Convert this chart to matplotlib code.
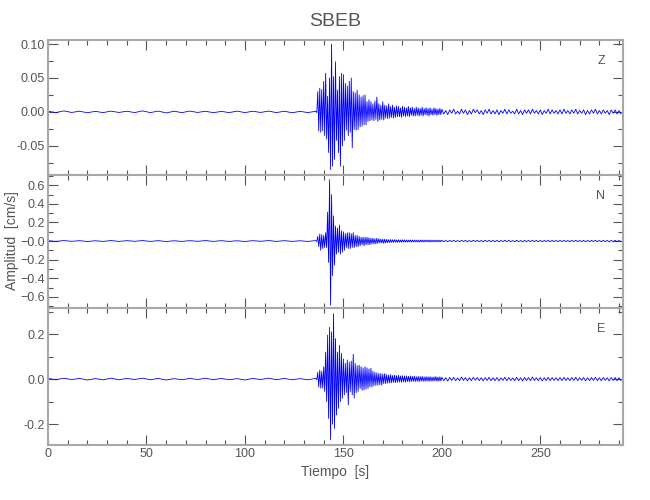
import numpy as np
import matplotlib
matplotlib.use("Agg")
import matplotlib.pyplot as plt
from matplotlib.ticker import MultipleLocator, FixedLocator, FixedFormatter

plt.rcParams['font.family'] = ['Liberation Sans', 'DejaVu Sans']

station = "SBEB"
components = ["Z", "N", "E"]

# time grid of the three parts of each trace (s)
t_pre = np.arange(0, 136, 4)       # quiet noise before arrival
t_evt = np.arange(136, 200)        # strong motion, one upper + one lower peak per second
t_coda = np.arange(200, 292)       # late coda, one peak per second

# ---- Z component (cm/s) ----
z_pre = [0.001, -0.001, 0.0015, -0.0008, 0.001, -0.0012, 0.0008, -0.001, 0.0012, -0.0008,
         0.001, -0.001, 0.0015, -0.001, 0.0012, -0.0015, 0.001, -0.001, 0.0012, -0.0008,
         0.001, -0.0012, 0.0008, -0.001, 0.0012, -0.001, 0.001, -0.0008, 0.0012, -0.001,
         0.001, -0.0012, 0.0008, -0.001]
z_up = [0.001, 0.030, 0.035, 0.033, 0.045, 0.057, 0.023, 0.050, 0.100, 0.052,
        0.074, 0.032, 0.052, 0.057, 0.055, 0.042, 0.038, 0.045, 0.050, 0.030,
        0.028, 0.032, 0.025, 0.022, 0.024, 0.025, 0.015, 0.018, 0.015, 0.012,
        0.016, 0.022, 0.012, 0.010, 0.015, 0.010, 0.009, 0.012, 0.008, 0.010,
        0.007, 0.009, 0.008, 0.006, 0.008, 0.007, 0.006, 0.008, 0.006, 0.007,
        0.005, 0.007, 0.006, 0.005, 0.007, 0.005, 0.006, 0.005, 0.006, 0.004,
        0.006, 0.005, 0.004, 0.005]
z_lo = [-0.001, -0.028, -0.030, -0.028, -0.035, -0.040, -0.060, -0.085, -0.080, -0.070,
        -0.042, -0.060, -0.080, -0.050, -0.042, -0.027, -0.035, -0.030, -0.053, -0.026,
        -0.027, -0.026, -0.022, -0.021, -0.019, -0.019, -0.014, -0.013, -0.012, -0.013,
        -0.011, -0.014, -0.012, -0.011, -0.012, -0.009, -0.010, -0.009, -0.008, -0.009,
        -0.008, -0.007, -0.007, -0.008, -0.006, -0.007, -0.006, -0.007, -0.005, -0.006,
        -0.006, -0.005, -0.006, -0.005, -0.006, -0.004, -0.005, -0.006, -0.004, -0.005,
        -0.004, -0.005, -0.004, -0.004]
# coda in units of 0.001 cm/s
z_coda = [4, -3, 2, -4, 3, -2, 4, -3, 1, -3, 4, -2, 3, -4, 2, -3, 4, -1, 3, -3,
          2, -4, 3, -2, 4, -3, 2, -3, 3, -4, 2, -2, 4, -3, 3, -2, 1, -3, 4, -3,
          2, -4, 3, -2, 3, -3, 4, -2, 2, -3, 3, -4, 2, -2, 4, -3, 3, -2, 2, -3,
          3, -3, 4, -2, 2, -3, 3, -2, 4, -3, 2, -2, 3, -4, 2, -3, 3, -2, 4, -3,
          2, -3, 3, -2, 2, -4, 3, -2, 3, -3, 2, -3]

# ---- N component ----
n_pre = [0.004, -0.004, 0.005, -0.003, 0.004, -0.005, 0.003, -0.004, 0.005, -0.004,
         0.004, -0.003, 0.005, -0.004, 0.004, -0.005, 0.003, -0.004, 0.004, -0.003,
         0.005, -0.004, 0.004, -0.004, 0.003, -0.005, 0.004, -0.003, 0.005, -0.004,
         0.004, -0.004, 0.003, -0.004]
n_up = [0.005, 0.050, 0.075, 0.070, 0.060, 0.090, 0.310, 0.660, 0.500, 0.270,
        0.160, 0.140, 0.170, 0.110, 0.100, 0.080, 0.090, 0.090, 0.080, 0.090,
        0.060, 0.060, 0.050, 0.040, 0.040, 0.040, 0.040, 0.035, 0.030, 0.030,
        0.025, 0.030, 0.025, 0.020, 0.020, 0.020, 0.018, 0.015, 0.016, 0.014,
        0.015, 0.012, 0.014, 0.012, 0.013, 0.011, 0.012, 0.010, 0.012, 0.010,
        0.011, 0.010, 0.009, 0.011, 0.010, 0.009, 0.010, 0.009, 0.010, 0.008,
        0.009, 0.010, 0.008, 0.009]
n_lo = [-0.005, -0.060, -0.100, -0.080, -0.070, -0.070, -0.230, -0.690, -0.370, -0.260,
        -0.140, -0.120, -0.140, -0.120, -0.100, -0.070, -0.080, -0.080, -0.070, -0.070,
        -0.060, -0.060, -0.050, -0.040, -0.050, -0.040, -0.040, -0.040, -0.030, -0.030,
        -0.030, -0.025, -0.020, -0.020, -0.025, -0.020, -0.018, -0.016, -0.015, -0.014,
        -0.013, -0.014, -0.012, -0.013, -0.011, -0.012, -0.010, -0.011, -0.010, -0.010,
        -0.009, -0.011, -0.010, -0.009, -0.010, -0.009, -0.008, -0.010, -0.009, -0.008,
        -0.009, -0.008, -0.009, -0.008]
n_coda = [8, -7, 6, -8, 7, -6, 8, -7, 5, -7, 8, -6, 7, -8, 6, -7, 8, -5, 7, -7,
          6, -8, 7, -6, 8, -7, 6, -7, 7, -8, 6, -6, 8, -7, 7, -6, 5, -7, 8, -7,
          6, -8, 7, -6, 7, -7, 8, -6, 6, -7, 7, -8, 6, -6, 8, -7, 7, -6, 6, -7,
          7, -7, 8, -6, 6, -7, 7, -6, 8, -7, 6, -6, 7, -8, 6, -7, 7, -6, 8, -7,
          6, -7, 7, -6, 6, -8, 7, -6, 7, -7, 6, -7]

# ---- E component ----
e_pre = [0.003, -0.003, 0.004, -0.002, 0.003, -0.004, 0.002, -0.003, 0.004, -0.003,
         0.003, -0.002, 0.004, -0.003, 0.003, -0.004, 0.002, -0.003, 0.003, -0.002,
         0.004, -0.003, 0.003, -0.003, 0.002, -0.004, 0.003, -0.002, 0.004, -0.003,
         0.003, -0.003, 0.002, -0.003]
e_up = [0.003, 0.030, 0.040, 0.035, 0.055, 0.120, 0.195, 0.230, 0.210, 0.290,
        0.180, 0.120, 0.150, 0.115, 0.090, 0.070, 0.085, 0.075, 0.080, 0.110,
        0.070, 0.060, 0.062, 0.055, 0.050, 0.055, 0.050, 0.045, 0.048, 0.035,
        0.030, 0.028, 0.025, 0.025, 0.022, 0.025, 0.020, 0.018, 0.020, 0.016,
        0.018, 0.015, 0.017, 0.014, 0.015, 0.013, 0.014, 0.012, 0.014, 0.012,
        0.013, 0.011, 0.012, 0.011, 0.012, 0.010, 0.011, 0.010, 0.011, 0.009,
        0.010, 0.011, 0.009, 0.010]
e_lo = [-0.003, -0.035, -0.040, -0.040, -0.055, -0.100, -0.175, -0.270, -0.200, -0.220,
        -0.160, -0.130, -0.100, -0.085, -0.070, -0.060, -0.115, -0.055, -0.070, -0.085,
        -0.060, -0.055, -0.042, -0.050, -0.048, -0.045, -0.042, -0.035, -0.035, -0.030,
        -0.028, -0.027, -0.025, -0.027, -0.020, -0.020, -0.018, -0.017, -0.016, -0.015,
        -0.016, -0.014, -0.013, -0.014, -0.012, -0.013, -0.011, -0.012, -0.011, -0.010,
        -0.011, -0.010, -0.011, -0.009, -0.010, -0.010, -0.009, -0.010, -0.009, -0.009,
        -0.008, -0.009, -0.009, -0.008]
e_coda = [8, -7, 6, -9, 7, -6, 8, -7, 5, -7, 9, -6, 7, -8, 6, -7, 8, -5, 7, -7,
          6, -8, 7, -6, 8, -7, 6, -7, 7, -8, 6, -6, 8, -7, 7, -6, 5, -7, 8, -7,
          6, -8, 7, -6, 7, -7, 9, -6, 6, -7, 7, -8, 6, -6, 8, -7, 7, -6, 6, -7,
          7, -7, 8, -6, 6, -7, 7, -6, 8, -7, 6, -6, 7, -8, 6, -7, 7, -6, 8, -7,
          6, -7, 7, -6, 6, -8, 7, -6, 7, -7, 6, -7]

traces = {"Z": (z_pre, z_up, z_lo, z_coda),
          "N": (n_pre, n_up, n_lo, n_coda),
          "E": (e_pre, e_up, e_lo, e_coda)}

ylims = {"Z": (-0.093, 0.106), "N": (-0.72, 0.71), "E": (-0.293, 0.316)}
majors = {"Z": 0.05, "N": 0.2, "E": 0.2}
minors = {"Z": 0.025, "N": 0.1, "E": 0.1}

gray = '#a8a8a8'
txt = '#555555'
blue = '#0000ff'


def build(pre, up, lo, coda):
    # interleave upper and lower peaks, lower half a second later
    t_e = np.column_stack([t_evt, t_evt + 0.5]).ravel()
    a_e = np.column_stack([up, lo]).ravel()
    t = np.concatenate([t_pre, t_e, t_coda])
    a = np.concatenate([pre, a_e, np.array(coda) * 0.001])
    return t, a


fig = plt.figure(figsize=(6.5, 5), dpi=100)
left, right = 48 / 650, 623 / 650
edges = [40, 175, 308, 445]

for i, comp in enumerate(components):
    top = 1 - edges[i] / 500
    bot = 1 - edges[i + 1] / 500
    ax = fig.add_axes([left, bot, right - left, top - bot])
    t, a = build(*traces[comp])
    ax.plot(t, a, color=blue, lw=0.6)
    ax.set_xlim(0, 292)
    ax.set_ylim(*ylims[comp])

    ax.xaxis.set_major_locator(MultipleLocator(50))
    ax.xaxis.set_minor_locator(MultipleLocator(10))
    ax.yaxis.set_major_locator(MultipleLocator(majors[comp]))
    ax.yaxis.set_minor_locator(MultipleLocator(minors[comp]))
    if comp == "Z":
        ax.yaxis.set_major_formatter(plt.FormatStrFormatter('%.2f'))
    elif comp == "N":
        vals = [-0.6, -0.4, -0.2, 0.0, 0.2, 0.4, 0.6]
        labs = ['\u22120.6', '\u22120.4', '\u22120.2', '\u22120.0', '0.2', '0.4', '0.6']
        ax.yaxis.set_major_locator(FixedLocator(vals))
        ax.yaxis.set_major_formatter(FixedFormatter(labs))
    else:
        ax.yaxis.set_major_formatter(plt.FormatStrFormatter('%.1f'))

    ax.tick_params(which='both', direction='in', top=True, right=True, color=txt,
                   labelcolor=txt, labelsize=9, width=0.8, pad=2)
    ax.tick_params(which='major', length=7)
    ax.tick_params(which='minor', length=3.5)
    for s in ax.spines.values():
        s.set_color(gray)
        s.set_linewidth(1.5)
    if i < 2:
        ax.tick_params(axis='x', labelbottom=False)
    else:
        ax.set_xlabel('Tiempo  [s]', color=txt, fontsize=10, labelpad=4)
    ax.text(0.969, 0.845, comp, transform=ax.transAxes, ha='right', va='center',
            color=txt, fontsize=9)

fig.text(12 / 650, 1 - 241 / 500, 'Amplitud  [cm/s]', rotation=90, ha='center',
         va='center', color=txt, fontsize=10)
fig.text(335 / 650, 1 - 22 / 500, station, ha='center', va='center', color=txt, fontsize=14)

fig.savefig('out.png', dpi=100)
